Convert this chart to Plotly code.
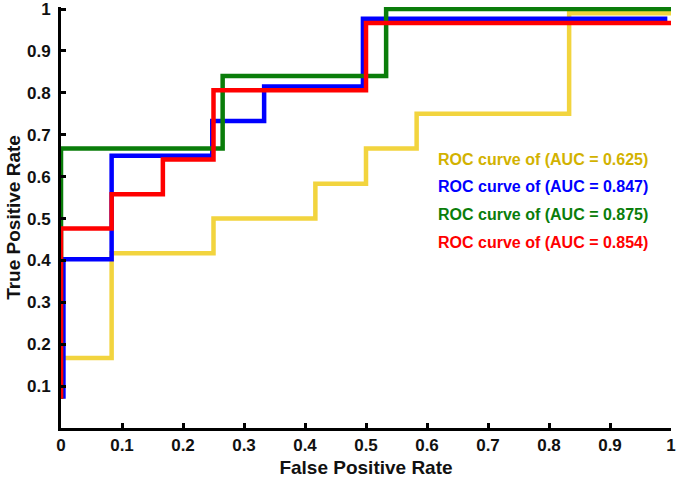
"""ROC curves of four models (step plot)"""

import plotly.graph_objects as go

# ── 데이터 ────────────────────────────────────────────────
FONT = "Arial, Liberation Sans, sans-serif"

names = [
    "ROC curve of (AUC = 0.625)",
    "ROC curve of (AUC = 0.847)",
    "ROC curve of (AUC = 0.875)",
    "ROC curve of (AUC = 0.854)",
]

fpr_yellow = [0, 0, 0.083, 0.25, 0.417, 0.5, 0.583, 0.833, 1.0]
tpr_yellow = [0.07, 0.167, 0.417, 0.5, 0.583, 0.667, 0.75, 0.99, 0.99]

fpr_blue = [0.004, 0.004, 0.083, 0.248, 0.333, 0.495, 0.994]
tpr_blue = [0.07, 0.403, 0.65, 0.733, 0.815, 0.977, 0.977]

fpr_green = [0, 0, 0.265, 0.533, 1.0]
tpr_green = [0.07, 0.667, 0.84, 1.0, 1.0]

fpr_red = [0, 0, 0.083, 0.167, 0.25, 0.5, 1.0]
tpr_red = [0.07, 0.476, 0.558, 0.641, 0.806, 0.967, 0.967]

x_ticks = [0, 0.1, 0.2, 0.3, 0.4, 0.5, 0.6, 0.7, 0.8, 0.9, 1]
x_labels = ["0", "0.1", "0.2", "0.3", "0.4", "0.5", "0.6", "0.7", "0.8", "0.9", "1"]
y_ticks = [0.1, 0.2, 0.3, 0.4, 0.5, 0.6, 0.7, 0.8, 0.9, 1]
y_labels = ["0.1", "0.2", "0.3", "0.4", "0.5", "0.6", "0.7", "0.8", "0.9", "1"]

line_colors = ["#F2D43E", "#0000FF", "#0A7D0A", "#FF0000"]
text_colors = ["#D2B200", "#0000FF", "#0A7D0A", "#FF0000"]
curves = [
    (fpr_yellow, tpr_yellow),
    (fpr_blue, tpr_blue),
    (fpr_green, tpr_green),
    (fpr_red, tpr_red),
]

fig = go.Figure()
for (fx, ty), name, color in zip(curves, names, line_colors):
    fig.add_trace(go.Scatter(
        x=fx, y=ty, name=name, mode="lines",
        line=dict(color=color, width=4.5, shape="hv"),
    ))

# 범례 대신 색상 텍스트
label_y = [0.641, 0.576, 0.509, 0.443]
for name, color, ly in zip(names, text_colors, label_y):
    fig.add_annotation(
        x=0.614, y=ly, xref="x", yref="y", text=f"<b>{name}</b>",
        showarrow=False, xanchor="left", yanchor="middle",
        font=dict(family=FONT, size=16, color=color),
    )

axis_common = dict(
    showline=True, linecolor="black", linewidth=3,
    ticks="inside", ticklen=5, tickwidth=2.5, tickcolor="black",
    showgrid=False, zeroline=False, automargin=False,
    tickfont=dict(family=FONT, size=17, color="#111"),
)

fig.update_xaxes(
    range=[0, 1], tickvals=x_ticks, ticktext=[f"<b>{t}</b>" for t in x_labels],
    title=dict(text="<b>False Positive Rate</b>", standoff=8,
               font=dict(family=FONT, size=19, color="#111")),
    **axis_common,
)
fig.update_yaxes(
    range=[0, 1.005], tickvals=y_ticks, ticktext=[f"<b>{t}</b>" for t in y_labels],
    ticklabelstandoff=4,
    title=dict(text="<b>True Positive Rate</b>", standoff=2,
               font=dict(family=FONT, size=19, color="#111")),
    **axis_common,
)

fig.update_layout(
    width=680, height=478,
    showlegend=False,
    paper_bgcolor="white", plot_bgcolor="white",
    margin=dict(l=61, r=9, t=7, b=50),
    font=dict(family=FONT),
)

# 브라우저 기본 body 여백 제거, 모드바 숨김
fig.write_html(
    "out.html",
    config={"displayModeBar": False},
    post_script="document.body.style.margin='0';",
)
